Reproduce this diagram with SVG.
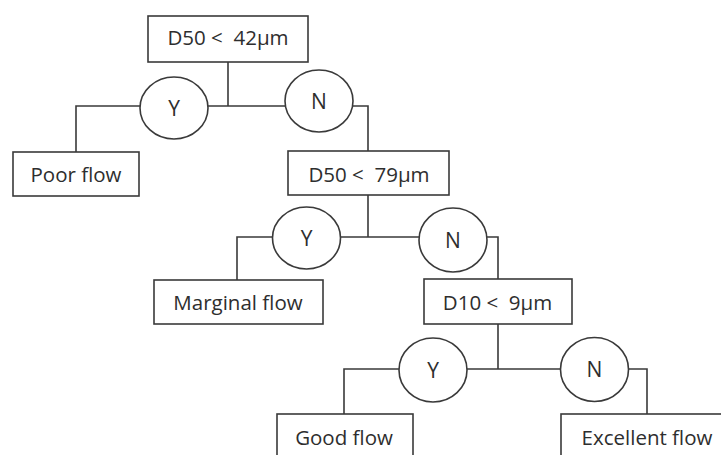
<svg xmlns="http://www.w3.org/2000/svg" width="721" height="455" viewBox="0 0 721 455">
<style>
.box{fill:#fff;stroke:#3a3a3a;stroke-width:1.6}
.yn{fill:#fff;stroke:#3a3a3a;stroke-width:1.6}
.ln{fill:none;stroke:#3a3a3a;stroke-width:1.6}
text{font-family:"Open Sans","Noto Sans","Liberation Sans",sans-serif;font-size:20.5px;fill:#2e2e2e;text-anchor:middle}
.c{font-size:21px}
</style>
<rect width="721" height="455" fill="#fff"/>
<g id="connectors">
<path class="ln" d="M228 62V106M208 106H285"/>
<path class="ln" d="M140 106H76V152"/>
<path class="ln" d="M353 106H368V151"/>
<path class="ln" d="M368 195V237M340 237H419"/>
<path class="ln" d="M273 237H237V280"/>
<path class="ln" d="M487 237H498V279"/>
<path class="ln" d="M498 324V369M467 369H561"/>
<path class="ln" d="M399 369H344V414"/>
<path class="ln" d="M628 369H647V414"/>
</g>
<g id="q1"><rect class="box" x="148" y="16" width="160" height="46"/><text x="228" y="45" xml:space="preserve">D50 &lt;  42µm</text></g>
<g id="y1"><ellipse class="yn" cx="174" cy="108" rx="34" ry="31"/><text class="c" x="174" y="115.5">Y</text></g>
<g id="n1"><ellipse class="yn" cx="319" cy="101" rx="34" ry="31"/><text class="c" x="319" y="108.5">N</text></g>
<g id="poor"><rect class="box" x="13" y="152" width="126" height="44"/><text x="76" y="182">Poor flow</text></g>
<g id="q2"><rect class="box" x="288" y="151" width="161" height="44"/><text x="369" y="182" xml:space="preserve">D50 &lt;  79µm</text></g>
<g id="y2"><ellipse class="yn" cx="306.5" cy="238" rx="34" ry="31"/><text class="c" x="306.5" y="245.5">Y</text></g>
<g id="n2"><ellipse class="yn" cx="453" cy="240" rx="34" ry="32"/><text class="c" x="453" y="247.5">N</text></g>
<g id="marginal"><rect class="box" x="154" y="280" width="169" height="44"/><text x="238" y="310">Marginal flow</text></g>
<g id="q3"><rect class="box" x="424" y="279" width="148" height="45"/><text x="497.5" y="310" xml:space="preserve">D10 &lt;  9µm</text></g>
<g id="y3"><ellipse class="yn" cx="433" cy="370" rx="34" ry="32"/><text class="c" x="433" y="377.5">Y</text></g>
<g id="n3"><ellipse class="yn" cx="594.5" cy="369.5" rx="34" ry="32"/><text class="c" x="594.5" y="377">N</text></g>
<g id="good"><rect class="box" x="277" y="414" width="136" height="60"/><text x="344" y="445">Good flow</text></g>
<g id="excellent"><rect class="box" x="561" y="414" width="200" height="60"/><text x="647" y="445">Excellent flow</text></g>
</svg>
